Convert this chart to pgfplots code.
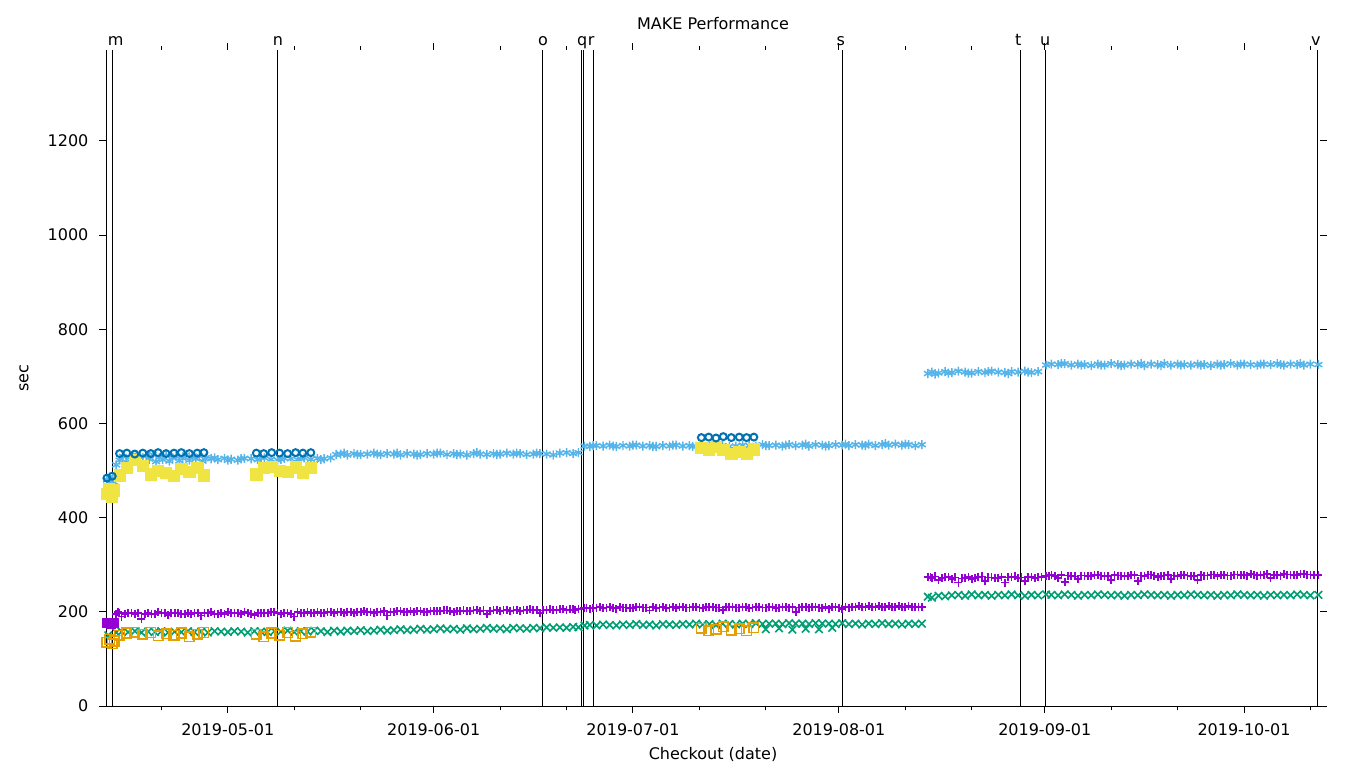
\documentclass[border=0pt]{standalone}
\usepackage{fontspec}
\setmainfont{DejaVu Sans}
\usepackage{pgfplots}
\pgfplotsset{compat=1.18}
\definecolor{cpurple}{RGB}{148,0,211}
\definecolor{cgreen}{RGB}{0,158,115}
\definecolor{clblue}{RGB}{86,180,233}
\definecolor{corange}{RGB}{230,159,0}
\definecolor{cyellow}{RGB}{240,228,66}
\definecolor{cdblue}{RGB}{0,114,178}
\begin{document}
\fontsize{12}{14}\selectfont
\begin{tikzpicture}
\useasboundingbox (-79.5pt,-46.5pt) rectangle (940.5pt,529.5pt);
\begin{axis}[
  at={(0,0)}, anchor=south west,
  scale only axis, width=910.5pt, height=492pt,
  xmin=-18.34, xmax=164.44, ymin=0, ymax=1393,
  axis line style={draw=none},
  tick align=outside,
  major tick length=5pt, minor tick length=3pt,
  tick style={black, line width=0.75pt},
  xtick={0,31,61,92,123,153},
  xticklabels={2019-05-01,2019-06-01,2019-07-01,2019-08-01,2019-09-01,2019-10-01},
  minor xtick={-10,10,20,41,51,71,81,102,112,133,143,163},
  ytick={0,200,400,600,800,1000,1200},
  /pgf/number format/assume math mode=true,
  /pgf/number format/1000 sep={},
  xticklabel style={anchor=base, yshift=-17pt},
  yticklabel style={anchor=east, xshift=-4pt},
  title={MAKE Performance},
  title style={at={(axis description cs:0.5,1)}, anchor=base, yshift=9pt},
  xlabel={Checkout (date)},
  xlabel style={at={(axis description cs:0.5,0)}, anchor=base, yshift=-40pt},
  ylabel={sec},
  ylabel style={at={(axis description cs:-0.0675,0.5)}, anchor=center},
  clip=false,
]
% purple +
\addplot[only marks, mark=+, mark size=3pt, line width=1.3pt, color=cpurple] coordinates {
(-18.2,176) (-17.7,178) (-17.2,175)
(-16.8,195) (-16.3,198) (-16,190) (-15.5,196) (-15,197) (-14,196) (-13.5,198) (-13,185) (-12,197) (-11.5,195) (-11,196) (-10,198) (-9,194) (-8.5,197) (-8,197) (-7,196) (-6,198) (-5.5,195) (-5,197) (-4,192) (-3,198) (-2,196) (-1,197) (-0.5,195) (0,199) (1,197) (2,196) (3,198) (4,193) (5,197) (6,198) (7,199) (8,196) (9,198) (10,190) (11,197) (12,199) (13,198) (14,197) (15,199) (16,198) (17,200) (18,199) (19,197) (20,200) (21,199) (22,198) (23,200) (24,192) (25,199) (26,201) (27,200) (28,199) (29,201) (30,200) (31,202) (32,201) (33,203) (34,200) (35,202) (36,201) (37,203) (38,202) (39,196) (40,203) (41,202) (42,204) (43,203) (44,202) (45,204) (46,203) (47,198) (48,204) (49,203) (50,205) (51,204) (52,205) (52.8,206)
(-16.5,199) (-14.5,197) (-12.5,196) (-10.5,199) (-9.5,197) (-7.5,198) (-6.5,196) (-4.5,198) (-3.5,197) (-2.5,199) (-1.5,196) (0.5,198) (1.5,197) (2.5,199) (3.5,196) (4.5,198) (5.5,197) (6.5,199) (7.5,197) (8.5,198) (9.5,196) (10.5,199) (11.5,198) (12.5,197) (13.5,199) (14.5,198) (15.5,200) (16.5,199) (17.5,198) (18.5,200) (19.5,199) (20.5,201) (21.5,200) (22.5,199) (23.5,201) (24.5,200) (25.5,201) (26.5,200) (27.5,202) (28.5,201) (29.5,200) (30.5,202) (31.5,201) (32.5,203) (33.5,202) (34.5,201) (35.5,203) (36.5,202) (37.5,204) (38.5,203) (39.5,202) (40.5,204) (41.5,203) (42.5,202) (43.5,204) (44.5,203) (45.5,205) (46.5,204) (47.5,203) (48.5,205) (49.5,204) (50.5,206) (51.5,205) (52.3,204)
(53.7,208) (54.5,207) (55.5,209) (56.5,208) (57.5,210) (58.5,207) (59.5,209) (60.5,208) (61.5,210) (62.5,209) (63.5,203) (64.5,208) (65.5,210) (66.5,209) (67.5,208) (68.5,210) (69.5,209) (70.5,211) (71.5,208) (72.5,210) (73.5,209) (74.5,204) (75.5,211) (76.5,209) (77.5,210) (78.5,208) (79.5,211) (80.5,209) (81.5,210) (82.5,208) (83.5,211) (84.5,209) (85.5,200) (86.5,210) (87.5,209) (88.5,211) (89.5,208) (90.5,207) (91.5,210) (92.5,206) (93.5,209) (94.5,211) (95.5,210) (96.5,212) (97.5,211) (98.5,210) (99.5,212) (100.5,211) (101.5,210) (102.5,212) (103.5,211) (104.5,210)
(54,209) (55,208) (56,210) (57,209) (58,208) (59,210) (60,209) (61,208) (62,210) (63,209) (64,211) (65,209) (66,208) (67,210) (68,211) (69,209) (70,210) (71,209) (72,211) (73,210) (74,209) (75,210) (76,211) (77,209) (78,210) (79,209) (80,211) (81,209) (82,210) (83,209) (84,211) (85,210) (86,209) (87,211) (88,210) (89,209) (90,211) (91,210) (92,209) (93,211) (94,210) (95,212) (96,211) (97,210) (98,212) (99,211) (100,210) (101,212) (102,211) (103,210) (104,211)
(105.4,274) (106,272) (107,268) (108,273) (109,270) (110,262) (111,272) (112,269) (113,274) (114,266) (115,273) (116,271) (117,262) (118,274) (119,272) (120,266) (121,274) (122,273) (123.2,276) (124,278) (125,272) (126,264) (127,276) (128,270) (129,277) (130,275) (131,278) (132,276) (133,268) (134,277) (135,275) (136,278) (137,266) (138,276) (139,279) (140,274) (141,277) (142,270) (143,276) (144,278) (145,275) (146,268) (147,277) (148,279) (149,276) (150,278) (151,277) (152,279) (153,278) (154,280) (155,277) (156,279) (157,272) (158,278) (159,280) (160,279) (161,278) (162,281) (163,279) (164.2,278)
(105.8,273) (106.5,275) (107.5,272) (108.5,274) (109.5,273) (110.5,271) (111.5,274) (112.5,272) (113.5,275) (114.5,273) (115.5,272) (116.5,274) (117.5,273) (118.5,275) (119.5,273) (120.5,274) (121.5,272) (122.5,274) (123.6,277) (124.5,276) (125.5,278) (126.5,277) (127.5,275) (128.5,277) (129.5,276) (130.5,278) (131.5,277) (132.5,276) (133.5,278) (134.5,277) (135.5,276) (136.5,278) (137.5,277) (138.5,279) (139.5,277) (140.5,276) (141.5,278) (142.5,277) (143.5,279) (144.5,277) (145.5,276) (146.5,278) (147.5,277) (148.5,279) (149.5,278) (150.5,277) (151.5,279) (152.5,278) (153.5,277) (154.5,279) (155.5,278) (156.5,280) (157.5,278) (158.5,277) (159.5,279) (160.5,278) (161.5,280) (162.5,279) (163.5,278)
};
% green x
\addplot[only marks, mark=x, mark size=4pt, line width=1.2pt, color=cgreen] coordinates {
(-18.0,150)
(-16.8,156) (-16,158) (-15,157) (-14,159) (-13,156) (-12,158) (-11,157) (-10,159) (-9,156) (-8,158) (-7,157) (-6,159) (-5,157) (-4,158) (-3,156) (-2,159) (-1,158) (0,157) (1,159) (2,158) (3,156) (4,159) (5,158) (6,157) (7,159) (8,158) (9,160) (10,157) (11,159) (12,158) (13,160) (14,159) (15,157) (16,160) (17,158) (18,160) (19,159) (20,161) (21,159) (22,160) (23,162) (24,160) (25,161) (26,163) (27,161) (28,162) (29,164) (30,162) (31,163) (32,165) (33,163) (34,164) (35,162) (36,165) (37,163) (38,164) (39,166) (40,164) (41,165) (42,163) (43,166) (44,165) (45,164) (46,166) (47,165) (48,167) (49,166) (50,167) (51,166) (52,168) (52.8,167)
(53.7,171) (54.5,172) (55.5,171) (56.5,173) (57.5,172) (58.5,171) (59.5,173) (60.5,172) (61.5,174) (62.5,172) (63.5,173) (64.5,171) (65.5,174) (66.5,173) (67.5,172) (68.5,174) (69.5,173) (70.5,175) (71.5,173) (72.5,174) (73.5,172) (74.5,175) (75.5,174) (76.5,173) (77.5,175) (78.5,174) (79.5,176) (80.5,174) (81,163) (81.5,175) (82.5,175) (83,165) (83.5,174) (84.5,176) (85,162) (85.5,175) (86.5,175) (87,164) (87.5,174) (88.5,176) (89,163) (89.5,175) (90.5,175) (91,166) (91.5,174) (92.5,176) (93.5,174) (94.5,175) (95.5,173) (96.5,175) (97.5,174) (98.5,176) (99.5,174) (100.5,175) (101.5,173) (102.5,175) (103.5,174) (104.5,175)
(105.4,232) (106,230) (107,234) (108,233) (109,235) (110,236) (111,234) (112,237) (113,235) (114,236) (115,234) (116,236) (117,235) (118,237) (119,235) (120,234) (121,236) (122,235) (123.2,237) (124,236) (125,235) (126,237) (127,236) (128,234) (129,236) (130,235) (131,237) (132,236) (133,235) (134,236) (135,234) (136,236) (137,235) (138,237) (139,236) (140,235) (141,236) (142,234) (143,236) (144,235) (145,237) (146,236) (147,235) (148,236) (149,234) (150,236) (151,235) (152,237) (153,236) (154,235) (155,236) (156,234) (157,236) (158,235) (159,236) (160,235) (161,237) (162,236) (163,235) (164.2,236)
};
% light blue *
\addplot[only marks, mark=asterisk, mark size=3.4pt, line width=1.1pt, color=clblue] coordinates {
(-18.2,480) (-18.0,466) (-17.8,486) (-17.6,472) (-17.3,483) (-17.1,475)
(-16.8,512) (-16.3,522) (-15.8,530) (-15.3,518) (-14.8,527) (-14.3,533) (-13.8,521) (-13.3,529) (-12.8,516) (-12.3,531) (-11.8,524) (-11.3,534) (-10.8,519) (-10.3,528) (-9.8,523) (-9.3,532) (-8.8,520) (-8.3,527) (-7.8,530) (-7.3,521) (-6.8,526) (-6.3,533) (-5.8,522) (-5.3,529) (-4.8,525) (-4.3,531) (-3.8,520) (-3.3,527)
(-2.5,525) (-2,527) (-1.5,523) (-0.5,526) (0,522) (0.5,524) (1.5,522) (2,525) (2.5,526) (3.5,525) (4.5,523) (5,527) (5.5,527) (6.5,524) (7.5,522) (8,524) (8.5,526) (9.5,525) (10.5,523) (11,525) (11.5,527) (12.5,524) (13.5,526) (14,523) (14.5,525) (15.5,527)
(16.3,534) (17,535) (17.5,537) (18,533) (19,536) (19.5,534) (20,534) (21,535) (22,537) (22.5,535) (23,534) (24,536) (25,535) (25.5,537) (26,533) (27,536) (28,535) (28.5,533) (29,534) (30,536) (31,535) (31.5,537) (32,537) (33,534) (34,536) (34.5,534) (35,535) (36,533) (37,536) (37.5,538) (38,535) (39,534) (40,536) (40.5,534) (41,535) (42,537) (43,535) (43.5,537) (44,536) (45,534) (46,535) (46.5,537) (47,536) (48,535) (49,533) (50,537) (51,538) (52,536) (52.8,538)
(53.7,552) (54.5,551) (55,553) (55.5,553) (56.5,552) (57.5,554) (58,552) (58.5,551) (59.5,553) (60.5,552) (61,554) (61.5,554) (62.5,552) (63.5,553) (64,551) (64.5,551) (65.5,553) (66.5,552) (67,554) (67.5,554) (68.5,552) (69.5,553) (70,551) (70.5,551) (71.5,553) (72.5,552) (73.5,554) (74.5,553) (75.5,551) (76.5,552) (77.5,554) (78.5,553) (79.5,552) (80.5,555) (81,553) (81.5,553) (82.5,554) (83.5,552) (84,554) (84.5,555) (85.5,553) (86.5,554) (87,556) (87.5,552) (88.5,555) (89.5,554) (90,552) (90.5,553) (91.5,555) (92.5,554) (93,556) (93.5,553) (94.5,555) (95.5,554) (96,553) (96.5,556) (97.5,553) (98.5,555) (99,557) (99.5,554) (100.5,556) (101.5,554) (102,556) (102.5,555) (103.5,553) (104.5,555)
(105.4,706) (106,709) (106.5,705) (107,707) (108,710) (108.5,707) (109,708) (110,711) (111,709) (111.5,707) (112,707) (113,710) (114,708) (114.5,710) (115,711) (116,709) (117,708) (117.5,706) (118,710) (119,709) (120,711) (120.5,709) (121,708) (122,710)
(123.2,724) (124,726) (125,725) (125.5,727) (126,727) (127,724) (128,726) (128.5,724) (129,725) (130,723) (131,726) (131.5,724) (132,724) (133,727) (134,725) (134.5,723) (135,724) (136,726) (137,725) (137.5,727) (138,723) (139,726) (140,725) (140.5,723) (141,727) (142,724) (143,726) (143.5,724) (144,725) (145,724) (146,726) (146.5,724) (147,725) (148,723) (149,726) (149.5,724) (150,725) (151,727) (152,724) (152.5,726) (153,726) (154,725) (155,724) (155.5,726) (156,726) (157,725) (158,727) (158.5,725) (159,724) (160,726) (161,725) (161.5,727) (162,724) (163,726) (164.2,725)
};
% orange open squares
\addplot[only marks, mark=square, mark size=3.6pt, line width=1.1pt, color=corange] coordinates {
(-18.2,135) (-17.8,142) (-17.4,132) (-17.1,138)
(-16.3,150) (-15.2,155) (-14.0,157) (-12.8,152) (-11.6,156) (-10.5,149) (-9.3,153) (-8.1,150) (-7.0,155) (-5.8,147) (-4.6,152) (-3.6,156)
(4.3,152) (5.4,147) (6.6,155) (7.8,150) (9.0,156) (10.2,148) (11.3,153) (12.5,157)
(71.3,165) (72.4,160) (73.5,163) (74.6,168) (75.8,161) (77.0,164) (78.1,160) (79.2,166)
};
% yellow filled squares
\addplot[only marks, mark=square*, mark size=4.2pt, line width=0.5pt, color=cyellow] coordinates {
(-18.2,450) (-17.9,462) (-17.5,445) (-17.2,458)
(-16.3,490) (-15.2,505) (-14.0,522) (-12.8,510) (-11.6,492) (-10.5,500) (-9.3,495) (-8.1,488) (-7.0,503) (-5.8,498) (-4.6,505) (-3.6,490)
(4.3,492) (5.4,505) (6.6,508) (7.8,500) (9.0,498) (10.2,507) (11.3,496) (12.5,505)
(71.3,548) (72.4,545) (73.5,550) (74.6,544) (75.8,535) (77.0,540) (78.1,535) (79.2,545)
};
% dark blue open circles
\addplot[only marks, mark=o, mark size=2.6pt, line width=1.5pt, color=cdblue] coordinates {
(-18.2,484) (-17.4,488)
(-16.3,536) (-15.2,537) (-14.0,535) (-12.8,537) (-11.6,536) (-10.5,538) (-9.3,536) (-8.1,537) (-7.0,538) (-5.8,536) (-4.6,537) (-3.6,538)
(4.3,537) (5.4,536) (6.6,538) (7.8,537) (9.0,536) (10.2,538) (11.3,537) (12.5,538)
(71.3,570) (72.4,571) (73.5,569) (74.6,572) (75.8,570) (77.0,571) (78.1,570) (79.2,571)
};
% purple filled squares
\addplot[only marks, mark=square*, mark size=3.3pt, color=cpurple] coordinates {
(-18.2,176) (-17.6,174) (-17.2,177)
};
% event lines
\foreach \d in {-18.2,-17.4,7.55,47.45,53.2,53.5,55.1,92.5,119.3,123.05,164.0} {
  \edef\tmp{\noexpand\draw[black, line width=0.75pt] (axis cs:\d,0) -- (axis cs:\d,1393);}
  \tmp
}
\foreach \d/\l in {-16.9/m,7.55/n,47.45/o,53.37/q,54.7/r,92.3/s,119.0/t,123.05/u,163.8/v} {
  \edef\tmp{\noexpand\node[anchor=base, yshift=3pt, inner sep=0pt] at (axis cs:\d,1393) {\l};}
  \tmp
}
\draw[black, line width=0.75pt] (rel axis cs:0,0) -- (rel axis cs:1,0);
\end{axis}
\end{tikzpicture}
\end{document}
